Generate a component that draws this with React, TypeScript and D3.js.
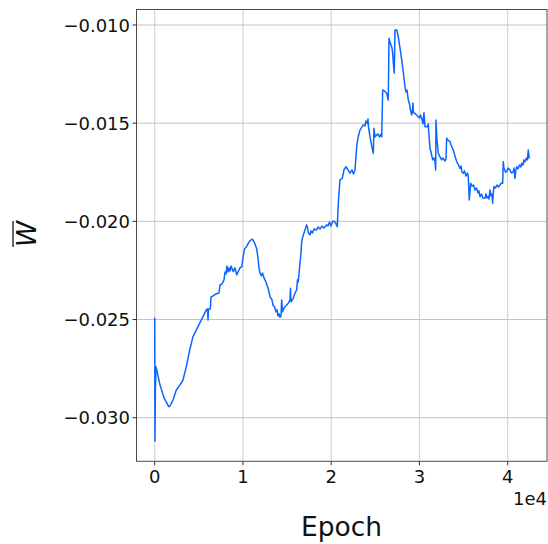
import React from "react";
import * as d3 from "d3";

// Training trace of the mean weight W̄ over epochs
const epochs: number[] = [
  0, 30, 80, 147, 600, 1054, 1586, 1734, 2074, 2448, 2867, 3207, 3581, 3966, 4340, 4906, 5473, 5847, 5983, 6040, 6096, 6300, 6379, 6606, 6946, 7286, 7399, 7626, 7852, 7966, 8079, 8192, 8306, 8419, 8532, 8646, 8906, 9099, 9292, 9439, 9666, 9858, 10005, 10175, 10459, 10685, 10991, 11139, 11365, 11558, 11705, 11818, 11932, 12102, 12215, 12385, 12611, 12838, 13065, 13291, 13405, 13575, 13745, 13858, 13971, 14084, 14198, 14311, 14390, 14481, 14651, 14957, 15161, 15331, 15388, 15444, 15705, 15897, 16090, 16181, 16271, 16407, 16543, 16657, 16804, 17031, 17223, 17314, 17427, 17597, 17710, 17880, 18050, 18356, 18504, 18730, 18957, 19183, 19489, 19637, 19807, 19977, 20203, 20430, 20691, 20804, 20997, 21257, 21450, 21677, 21904, 22130, 22357, 22526, 22696, 22889, 23036, 23263, 23490, 23637, 23830, 23943, 24090, 24169, 24226, 24396, 24566, 24770, 24849, 24962, 25155, 25302, 25472, 25642, 25721, 25834, 26038, 26287, 26469, 26548, 26661, 26774, 26888, 26967, 27058, 27149, 27228, 27421, 27602, 27795, 27988, 28169, 28362, 28475, 28588, 28736, 28872, 28985, 29121, 29212, 29268, 29325, 29495, 29665, 29869, 30005, 30118, 30254, 30401, 30515, 30628, 30889, 31002, 31081, 31194, 31308, 31500, 31648, 31761, 31840, 31874, 31988, 32135, 32328, 32520, 32668, 32895, 33008, 33087, 33235, 33461, 33631, 33835, 34028, 34220, 34367, 34594, 34707, 34821, 34968, 35104, 35274, 35444, 35535, 35648, 35807, 35954, 36124, 36294, 36464, 36634, 36748, 36861, 37031, 37200, 37427, 37540, 37654, 37801, 37880, 37994, 38107, 38220, 38300, 38366, 38446, 38616, 38786, 38956, 39126, 39296, 39432, 39500, 39579, 39749, 39885, 40033, 40260, 40430, 40633, 40713, 40826, 40939, 41019, 41167, 41337, 41507, 41585, 41733, 41846, 41960, 42129, 42243, 42333, 42446,
];
const meanW: number[] = [
  -0.0249, -0.0312, -0.0285, -0.0274, -0.02833, -0.02899, -0.02944, -0.0294, -0.0291, -0.02859, -0.02833, -0.02808, -0.0274, -0.02655, -0.02587, -0.02536, -0.02485, -0.02451, -0.02446, -0.02502, -0.02446, -0.02446, -0.02385, -0.0238, -0.0237, -0.02365, -0.02324, -0.02319, -0.02298, -0.02258, -0.02268, -0.02227, -0.02258, -0.02237, -0.02253, -0.02227, -0.02256, -0.02237, -0.02273, -0.02258, -0.02237, -0.02231, -0.02186, -0.02141, -0.02125, -0.02105, -0.02091, -0.02095, -0.02115, -0.02141, -0.02186, -0.02237, -0.02264, -0.02278, -0.02263, -0.02288, -0.02309, -0.02339, -0.02383, -0.024, -0.02426, -0.02436, -0.02461, -0.02451, -0.02482, -0.02471, -0.02488, -0.02482, -0.024, -0.02461, -0.02441, -0.02426, -0.02416, -0.024, -0.02341, -0.0241, -0.02392, -0.02365, -0.02349, -0.02298, -0.02309, -0.02237, -0.0218, -0.02103, -0.02074, -0.02044, -0.02018, -0.02033, -0.02059, -0.02069, -0.02049, -0.02059, -0.02039, -0.02044, -0.02029, -0.02039, -0.02024, -0.02034, -0.02018, -0.02024, -0.02003, -0.02024, -0.01998, -0.02003, -0.02027, -0.01908, -0.01789, -0.01781, -0.01738, -0.01722, -0.01738, -0.01755, -0.01738, -0.01759, -0.01738, -0.0162, -0.01575, -0.01535, -0.01519, -0.01509, -0.01514, -0.01489, -0.01501, -0.01479, -0.01519, -0.01569, -0.01611, -0.01653, -0.01526, -0.0157, -0.0156, -0.01555, -0.0157, -0.01555, -0.01569, -0.01331, -0.01336, -0.01348, -0.01382, -0.01068, -0.01087, -0.01102, -0.01117, -0.01144, -0.01204, -0.01246, -0.01025, -0.01025, -0.0106, -0.01117, -0.01178, -0.01239, -0.01314, -0.01341, -0.01331, -0.01382, -0.01402, -0.01433, -0.01458, -0.01433, -0.01397, -0.01448, -0.0145, -0.01458, -0.01467, -0.01474, -0.01458, -0.01475, -0.01504, -0.01447, -0.01518, -0.01518, -0.01504, -0.0156, -0.01628, -0.01647, -0.01687, -0.01677, -0.01696, -0.01738, -0.01484, -0.01586, -0.01653, -0.01672, -0.01687, -0.01677, -0.01693, -0.01682, -0.01577, -0.01586, -0.01594, -0.01616, -0.01637, -0.01667, -0.01696, -0.01708, -0.0173, -0.01718, -0.01749, -0.01755, -0.01743, -0.01769, -0.01754, -0.01772, -0.01891, -0.01806, -0.0182, -0.01815, -0.0184, -0.0183, -0.01855, -0.01845, -0.01874, -0.01861, -0.01881, -0.01882, -0.01861, -0.01881, -0.01874, -0.01886, -0.0184, -0.01871, -0.01861, -0.01908, -0.01855, -0.01823, -0.0183, -0.01815, -0.01825, -0.01815, -0.01805, -0.01806, -0.01696, -0.01728, -0.01749, -0.01747, -0.01728, -0.01738, -0.01754, -0.01747, -0.01728, -0.01781, -0.01738, -0.01722, -0.01733, -0.01713, -0.01723, -0.01704, -0.01713, -0.01687, -0.01698, -0.01677, -0.01687, -0.01637, -0.01679,
];

const xTicks: number[] = [0, 10000, 20000, 30000, 40000];
const xTickLabels: string[] = ["0", "1", "2", "3", "4"];
const yTicks: number[] = [-0.01, -0.015, -0.02, -0.025, -0.03];
const yTickLabels: string[] = ["\u22120.010", "\u22120.015", "\u22120.020", "\u22120.025", "\u22120.030"];

const W = 548;
const H = 544;
const plot = { left: 136.5, top: 9.5, right: 547, bottom: 461.3 };
const FONT = "DejaVu Sans, sans-serif";

export default function App() {
  const x = d3.scaleLinear().domain([-2063, 44456]).range([plot.left, plot.right]);
  const y = d3.scaleLinear().domain([-0.032221, -0.009211]).range([plot.bottom, plot.top]);

  const data = epochs.map((e, i) => [e, meanW[i]] as [number, number]);
  const line = d3
    .line<[number, number]>()
    .x((d) => x(d[0]))
    .y((d) => y(d[1]));

  return (
    <svg
      width={W}
      height={H}
      style={{ position: "absolute", left: 0, top: 0, background: "#fff" }}
      fontFamily={FONT}
    >
      <defs>
        <clipPath id="plotClip">
          <rect x={plot.left} y={plot.top} width={plot.right - plot.left} height={plot.bottom - plot.top} />
        </clipPath>
      </defs>

      {/* grid */}
      {xTicks.map((t) => (
        <line key={"gx" + t} x1={x(t)} x2={x(t)} y1={plot.top} y2={plot.bottom} stroke="#d6d6d6" strokeWidth={1.2} />
      ))}
      {yTicks.map((t) => (
        <line key={"gy" + t} x1={plot.left} x2={plot.right} y1={y(t)} y2={y(t)} stroke="#c4c4c4" strokeWidth={1} />
      ))}

      {/* series */}
      <path d={line(data) || ""} fill="none" stroke="#0a66ff" strokeWidth={1.5} strokeLinejoin="round" clipPath="url(#plotClip)" />

      {/* frame */}
      <rect
        x={plot.left}
        y={plot.top}
        width={plot.right - plot.left}
        height={plot.bottom - plot.top}
        fill="none"
        stroke="#4a4a4a"
        strokeWidth={1}
      />

      {/* x axis ticks */}
      {xTicks.map((t, i) => (
        <g key={"xt" + t}>
          <line x1={x(t)} x2={x(t)} y1={plot.bottom} y2={plot.bottom + 4} stroke="#333" strokeWidth={1} />
          <text x={x(t)} y={482.6} fontSize={18} textAnchor="middle" fill="#111">
            {xTickLabels[i]}
          </text>
        </g>
      ))}
      <text x={547} y={504.5} fontSize={18} textAnchor="end" fill="#111">
        1e4
      </text>

      {/* y axis ticks */}
      {yTicks.map((t, i) => (
        <g key={"yt" + t}>
          <line x1={plot.left - 4} x2={plot.left} y1={y(t)} y2={y(t)} stroke="#333" strokeWidth={1} />
          <text x={130} y={y(t) + 6.6} fontSize={18} textAnchor="end" fill="#111">
            {yTickLabels[i]}
          </text>
        </g>
      ))}

      {/* axis titles */}
      <text x={341.5} y={536} fontSize={26.5} textAnchor="middle" fill="#111">
        Epoch
      </text>
      <g transform="translate(36,234) rotate(-90)">
        <text x={0} y={0} fontSize={26.5} textAnchor="middle" fill="#111" fontStyle="italic">
          W
        </text>
        <line x1={-13} x2={13} y1={-23} y2={-23} stroke="#111" strokeWidth={1.3} />
      </g>
    </svg>
  );
}
